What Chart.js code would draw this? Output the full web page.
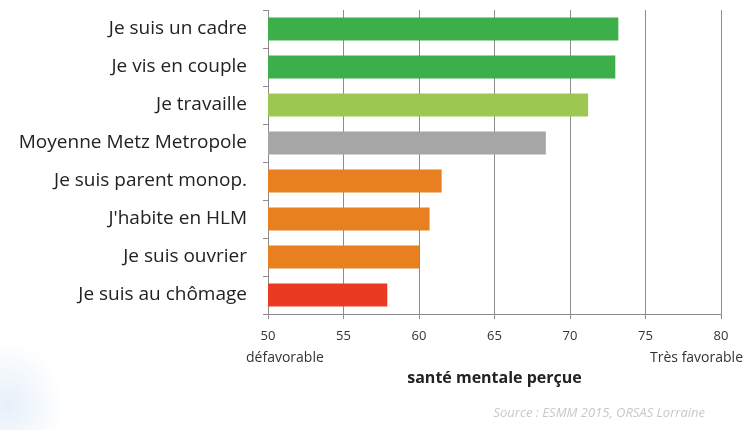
<!DOCTYPE html>
<html>
<head>
<meta charset="utf-8">
<script src="https://cdn.jsdelivr.net/npm/chart.js@4/dist/chart.umd.min.js"></script>
<style>
  html, body { margin: 0; padding: 0; background: #fff; }
  #wrap { position: relative; width: 749px; height: 430px;
    background: radial-gradient(ellipse 55px 65px at 8px 405px, rgba(200,222,242,0.45), rgba(255,255,255,0) 100%); }
  canvas { position: absolute; left: 0; top: 0; }
</style>
</head>
<body>
<div id="wrap"><canvas id="c" width="749" height="430"></canvas></div>
<script>
const categories = [
  "Je suis un cadre",
  "Je vis en couple",
  "Je travaille",
  "Moyenne Metz Metropole",
  "Je suis parent monop.",
  "J'habite en HLM",
  "Je suis ouvrier",
  "Je suis au chômage"
];
const values = [73.2, 73.0, 71.2, 68.4, 61.5, 60.7, 60.0, 57.9];
const barColors = ["#3caf4b", "#3caf4b", "#9cc852", "#a6a6a6", "#e8801f", "#e8801f", "#e8801f", "#ea3b22"];
const xTicks = [50, 55, 60, 65, 70, 75, 80];
const lowLabel = "défavorable";
const highLabel = "Très favorable";
const axisTitle = "santé mentale perçue";
const sourceText = "Source : ESMM 2015, ORSAS Lorraine";

const FONT = "'Open Sans', Lato, sans-serif";

const extraText = {
  id: 'extraText',
  afterDraw(chart) {
    const ctx = chart.ctx;
    const xs = chart.scales.x;
    ctx.save();
    ctx.fillStyle = '#333';
    ctx.textBaseline = 'middle';
    ctx.font = "14px " + FONT;
    ctx.textAlign = 'left';
    ctx.fillText(lowLabel, xs.getPixelForValue(xTicks[0]) - 22, 358);
    ctx.textAlign = 'right';
    ctx.fillText(highLabel, xs.getPixelForValue(xTicks[xTicks.length - 1]) + 22, 358);
    ctx.font = "bold 16px " + FONT;
    ctx.textAlign = 'center';
    ctx.fillStyle = '#222';
    ctx.fillText(axisTitle, (xs.left + xs.right) / 2, 378);
    ctx.font = "italic 13px " + FONT;
    ctx.fillStyle = '#c8c8c8';
    ctx.textAlign = 'right';
    ctx.fillText(sourceText, 705, 413);
    ctx.restore();
  }
};

new Chart(document.getElementById('c'), {
  type: 'bar',
  data: {
    labels: categories,
    datasets: [{
      data: values,
      backgroundColor: barColors,
      borderWidth: 0,
      barPercentage: 0.6,
      categoryPercentage: 1.0
    }]
  },
  options: {
    indexAxis: 'y',
    responsive: false,
    animation: false,
    layout: { padding: { top: 10, right: 28, left: 0, bottom: 0 } },
    plugins: { legend: { display: false }, tooltip: { enabled: false } },
    scales: {
      x: {
        min: 50, max: 80,
        afterBuildTicks(scale) { scale.ticks = xTicks.map(v => ({ value: v })); },
        afterFit(scale) { scale.height = 116; },
        ticks: { color: '#333', font: { family: FONT, size: 13 }, padding: 9 },
        grid: { color: '#8c8c8c', lineWidth: 1, tickLength: 5 },
        border: { color: '#8c8c8c', width: 1 }
      },
      y: {
        afterFit(scale) { scale.width = 268; scale.paddingTop = 0; scale.paddingBottom = 0; },
        ticks: { color: '#222', font: { family: FONT, size: 19 }, padding: 16 },
        grid: { offset: true, drawOnChartArea: false, color: '#8c8c8c', tickLength: 5 },
        border: { color: '#8c8c8c', width: 1 }
      }
    }
  },
  plugins: [extraText]
});
</script>
</body>
</html>
